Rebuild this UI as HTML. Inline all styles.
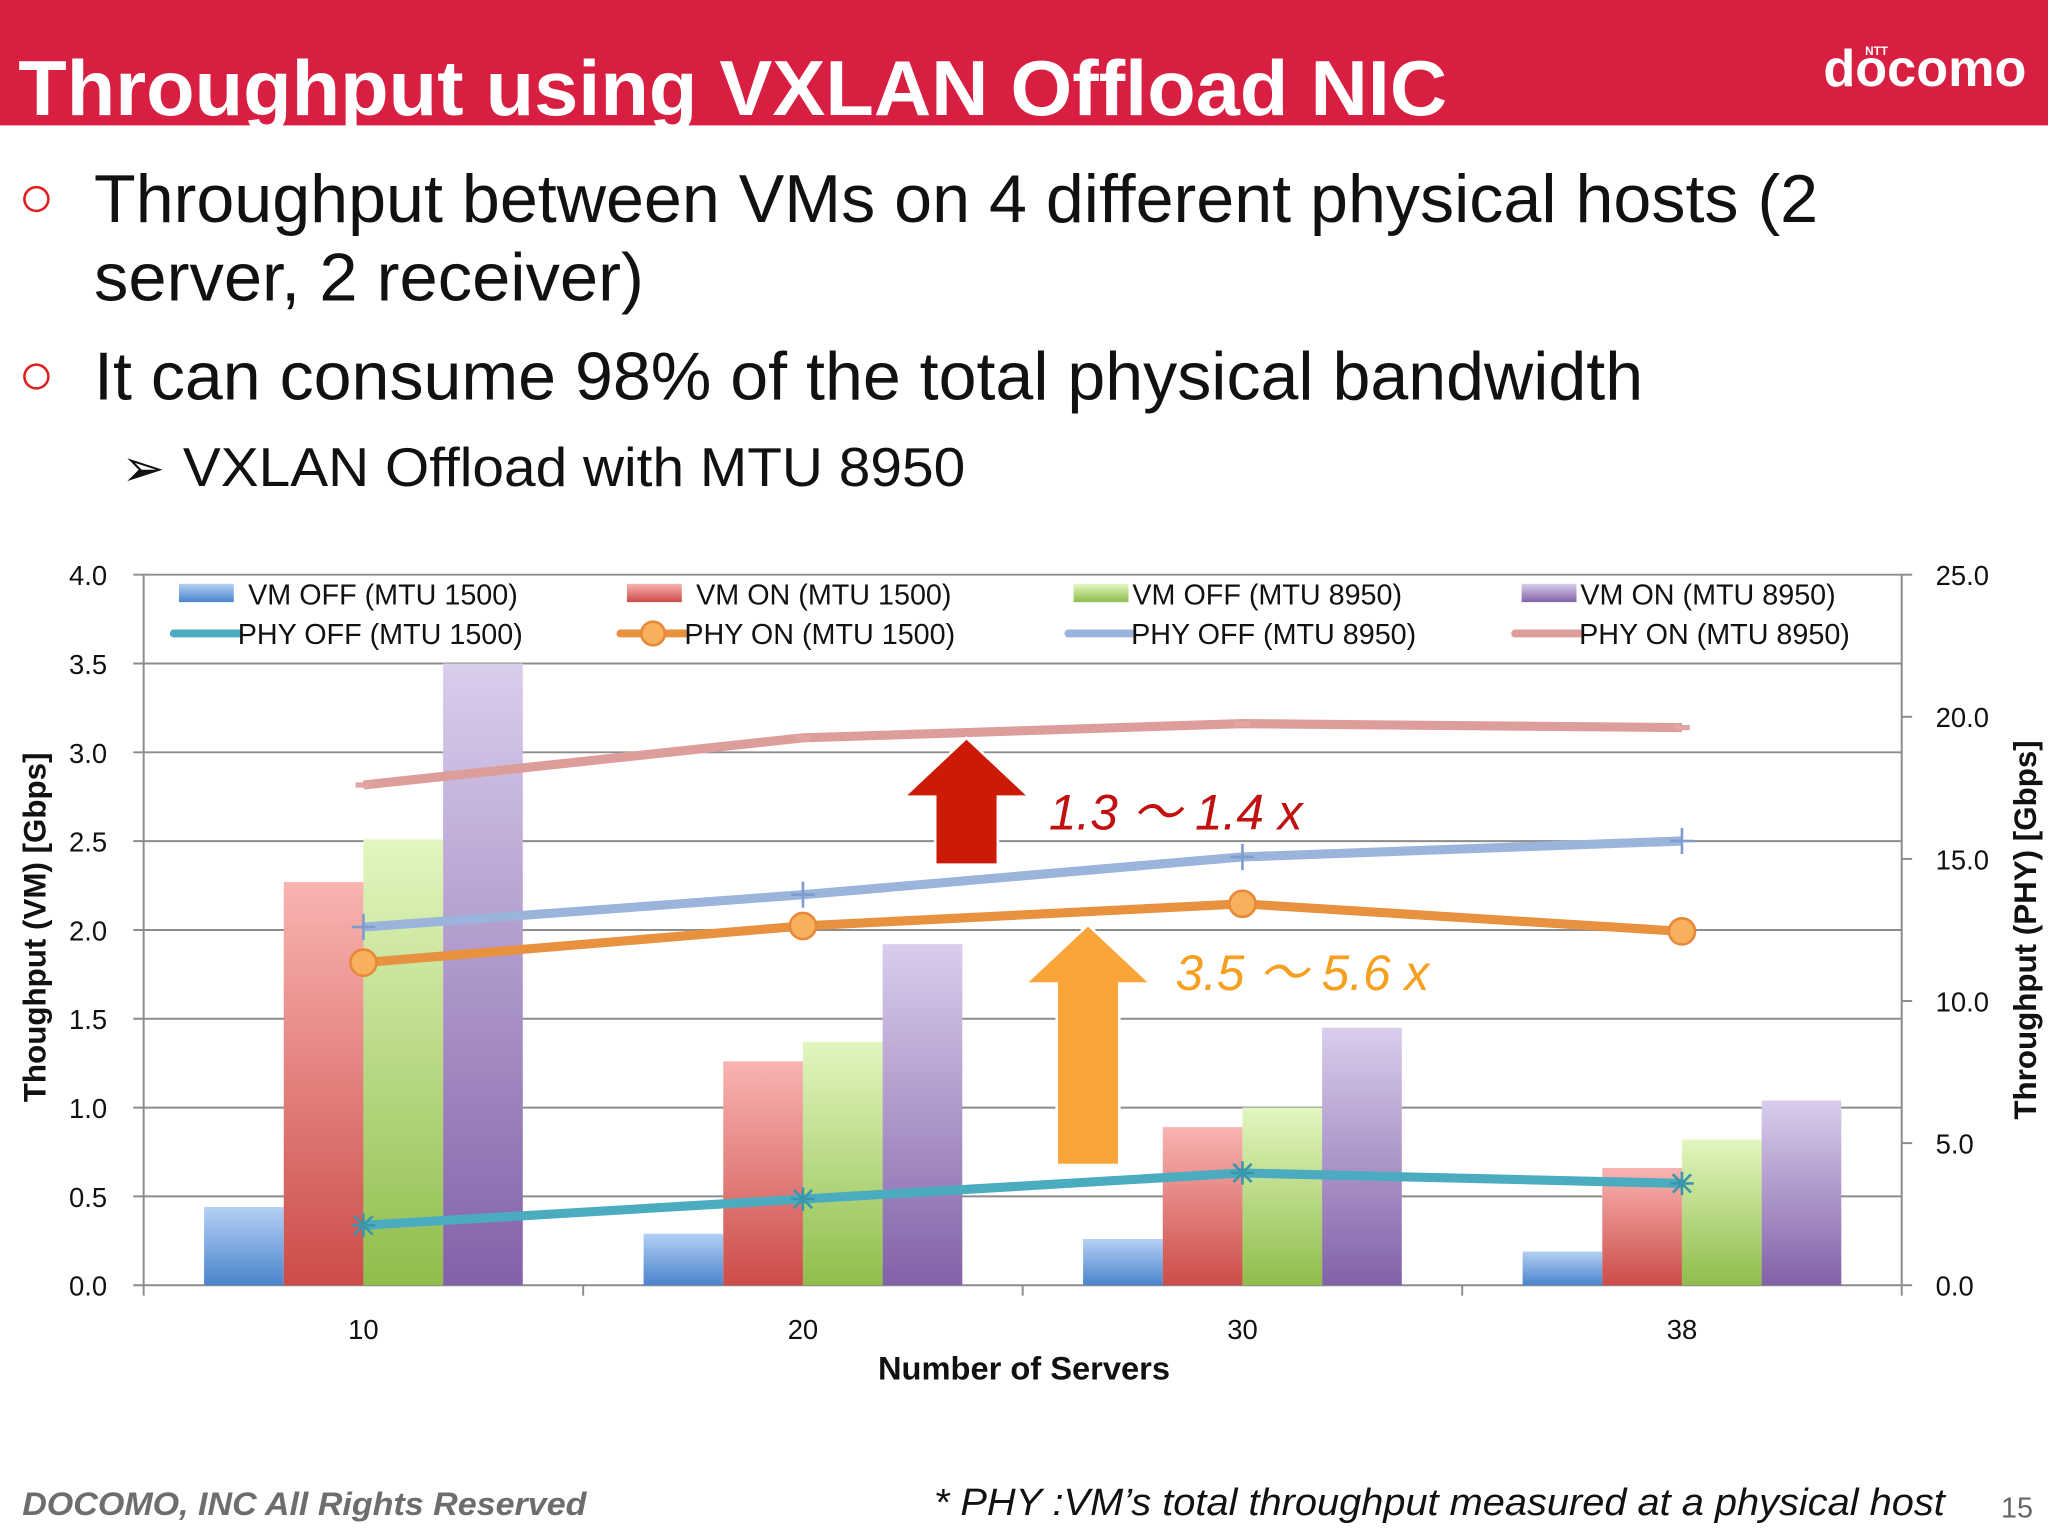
<!DOCTYPE html>
<html><head><meta charset="utf-8"><style>
html,body{margin:0;padding:0;background:#fff;}
svg{display:block;font-family:"Liberation Sans",sans-serif;}
</style></head><body>
<svg id="s" width="2048" height="1536" viewBox="0 0 1568 1176">
<defs>
<linearGradient id="gb" x1="0" y1="0" x2="0" y2="1"><stop offset="0" stop-color="#b4d0f4"/><stop offset="1" stop-color="#4a84cc"/></linearGradient>
<linearGradient id="gr" x1="0" y1="0" x2="0" y2="1"><stop offset="0" stop-color="#f9b4b2"/><stop offset="1" stop-color="#cc4c48"/></linearGradient>
<linearGradient id="gg" x1="0" y1="0" x2="0" y2="1"><stop offset="0" stop-color="#e2f6bf"/><stop offset="1" stop-color="#90bd4c"/></linearGradient>
<linearGradient id="gp" x1="0" y1="0" x2="0" y2="1"><stop offset="0" stop-color="#d9cdec"/><stop offset="1" stop-color="#8262a8"/></linearGradient>
</defs>
<rect x="0" y="0" width="1568" height="96" fill="#d81f42"/>
<text x="14" y="88" font-size="60" font-weight="bold" fill="#fff" textLength="1094" lengthAdjust="spacingAndGlyphs">Throughput using VXLAN Offload NIC</text>
<text x="1396" y="66" font-size="40" font-weight="bold" fill="#fff">docomo</text>
<text x="1428" y="42" font-size="9" font-weight="bold" fill="#fff">NTT</text>
<g font-size="52" fill="#111">
<text x="14" y="166" fill="#e02020" font-size="46" font-weight="bold">○</text>
<text x="72" y="170" textLength="1320" lengthAdjust="spacingAndGlyphs">Throughput between VMs on 4 different physical hosts (2</text>
<text x="72" y="230" textLength="421" lengthAdjust="spacingAndGlyphs">server, 2 receiver)</text>
<text x="14" y="302" fill="#e02020" font-size="46" font-weight="bold">○</text>
<text x="72" y="306" textLength="1186" lengthAdjust="spacingAndGlyphs">It can consume 98% of the total physical bandwidth</text>
<text x="93" y="372" font-size="40">➢</text>
<text x="140" y="372" font-size="42" textLength="599" lengthAdjust="spacingAndGlyphs">VXLAN Offload with MTU 8950</text>
</g>
<g id="chart"></g>
<text x="17" y="1160" font-size="25" font-style="italic" font-weight="bold" fill="#6d6d6d" textLength="432" lengthAdjust="spacingAndGlyphs">DOCOMO, INC All Rights Reserved</text>
<text x="715" y="1160" font-size="29" font-style="italic" fill="#111" textLength="774" lengthAdjust="spacingAndGlyphs">* PHY :VM’s total throughput measured at a physical host</text>
<text x="1532" y="1162" font-size="22" fill="#666">15</text>
</svg>
<script>
const categories=["10","20","30","38"];
const vmOff1500=[0.44,0.29,0.26,0.19];
const vmOn1500=[2.27,1.26,0.89,0.66];
const vmOff8950=[2.51,1.37,1.00,0.82];
const vmOn8950=[3.5,1.92,1.45,1.04];
const phyOff1500=[2.11,3.03,3.95,3.58];
const phyOn1500=[11.35,12.64,13.42,12.45];
const phyOff8950=[12.6,13.74,15.07,15.63];
const phyOn8950=[17.6,19.26,19.76,19.62];
const leftTicks=["0.0","0.5","1.0","1.5","2.0","2.5","3.0","3.5","4.0"];
const rightTicks=["0.0","5.0","10.0","15.0","20.0","25.0"];

const NS="http://www.w3.org/2000/svg";
const g=document.getElementById('chart');
const L=110,R=1456,B=984,T=440;
const yL=v=>B-(v/4)*(B-T);
const yR=v=>B-(v/25)*(B-T);
const band=(R-L)/categories.length;
const xC=i=>L+band*(i+0.5);
function mk(tag,attrs,parent){const e=document.createElementNS(NS,tag);for(const k in attrs)e.setAttribute(k,attrs[k]);(parent||g).appendChild(e);return e;}
function txt(x,y,s,attrs){const e=mk('text',Object.assign({x:x,y:y},attrs));e.textContent=s;return e;}

leftTicks.forEach((t,i)=>{const v=i*0.5;const y=yL(v);
 const l=mk('line',{x1:L-8,x2:R,y1:y,y2:y,stroke:'#8c8c8c','stroke-width':1.5});
 
 
 const e=txt(82,y+8,t,{'font-size':21,'text-anchor':'end',fill:'#111'});
 
 
});
rightTicks.forEach((t,i)=>{const v=i*5;const y=yR(v);
 const l=mk('line',{x1:R,x2:R+8,y1:y,y2:y,stroke:'#8c8c8c','stroke-width':1.5});
 
 
 const e=txt(1482,y+8,t,{'font-size':21,fill:'#111'});
 
 
});
let ax=mk('line',{x1:L,x2:L,y1:T,y2:B,stroke:'#8c8c8c','stroke-width':1.5});


ax=mk('line',{x1:R,x2:R,y1:T,y2:B,stroke:'#8c8c8c','stroke-width':1.5});


for(let i=0;i<=categories.length;i++){const x=L+band*i;
 const t=mk('line',{x1:x,x2:x,y1:B,y2:B+8,stroke:'#8c8c8c','stroke-width':1.5});
 
 
}
categories.forEach((c,i)=>{const e=txt(xC(i),1025,c,{'font-size':21,'text-anchor':'middle',fill:'#111'});
 
 });

const bw=61;
const barSeries=[[vmOff1500,'url(#gb)','bar-vm-off-1500'],[vmOn1500,'url(#gr)','bar-vm-on-1500'],[vmOff8950,'url(#gg)','bar-vm-off-8950'],[vmOn8950,'url(#gp)','bar-vm-on-8950']];
barSeries.forEach((s,si)=>{s[0].forEach((v,i)=>{const x=xC(i)-2*bw+si*bw;
 const r=mk('rect',{x:x,y:yL(v),width:bw,height:B-yL(v),fill:s[1]});
 
 
});});

function line(data,color,w,name,marker){
 const pts=data.map((v,i)=>xC(i)+','+yR(v)).join(' ');
 const p=mk('polyline',{points:pts,fill:'none',stroke:color,'stroke-width':w,'stroke-linejoin':'round'});
 
 
 data.forEach((v,i)=>{const x=xC(i),y=yR(v);let m;
  if(marker==='circle'){m=mk('ellipse',{cx:x,cy:y,rx:10,ry:10,fill:'#f7b05c',stroke:'#e8893a','stroke-width':2});}
  else if(marker==='star'){m=mk('path',{d:`M${x-9},${y}H${x+9}M${x},${y-9}V${y+9}M${x-7},${y-7}L${x+7},${y+7}M${x-7},${y+7}L${x+7},${y-7}`,stroke:'#3a96aa','stroke-width':2});}
  else if(marker==='plus'){m=mk('path',{d:`M${x-9},${y}H${x+9}M${x},${y-10}V${y+10}`,stroke:'#7f9ccf','stroke-width':2});}
  else {m=mk('rect',{x:x-6,y:y-2,width:12,height:4,fill:'#e2a5a2'});}
  
  
 });
}
line(phyOn8950,'#dd9e9b',7,'line-phy-on-8950','dash');
line(phyOff8950,'#9ab4dc',7,'line-phy-off-8950','plus');
line(phyOn1500,'#e8913e',7,'line-phy-on-1500','circle');
line(phyOff1500,'#4bacc0',7,'line-phy-off-1500','star');

function arrow(cx,top,bot,fill,name){
 const p=mk('polygon',{points:`${cx},${top} ${cx+48},${top+45} ${cx+24},${top+45} ${cx+24},${bot} ${cx-24},${bot} ${cx-24},${top+45} ${cx-48},${top+45}`,fill:fill,stroke:'#fff','stroke-width':2});
 
 
}
arrow(740,565,662,'#cc1a06','red-arrow');
arrow(833,708,892,'#f9a53a','orange-arrow');
let a=txt(803,635,'1.3 ～ 1.4 x',{'font-size':38,'font-style':'italic',fill:'#c01010'});


a=txt(900,758,'3.5 ～ 5.6 x',{'font-size':38,'font-style':'italic',fill:'#f5a020'});



const legBars=[[137,190,'url(#gb)','VM OFF (MTU 1500)'],[480,533,'url(#gr)','VM ON (MTU 1500)'],[822,867,'url(#gg)','VM OFF (MTU 8950)'],[1165,1210,'url(#gp)','VM ON (MTU 8950)']];
legBars.forEach(l=>{const r=mk('rect',{x:l[0],y:447,width:42,height:14,fill:l[2]});
 
 
 const e=txt(l[1],463,l[3],{'font-size':22,fill:'#111'});
 
 });
const legLines=[[133,183,'#4bacc0','PHY OFF (MTU 1500)'],[475,525,'#e8913e','PHY ON (MTU 1500)'],[818,867,'#9ab4dc','PHY OFF (MTU 8950)'],[1160,1210,'#dd9e9b','PHY ON (MTU 8950)']];
legLines.forEach(l=>{const r=mk('line',{x1:l[0],x2:l[1],y1:485,y2:485,stroke:l[2],'stroke-width':6,'stroke-linecap':'round'});
 
 
 const e=txt(l[1]-1,493,l[3],{'font-size':22,fill:'#111'});
 
 });
mk('circle',{cx:500,cy:485,r:9,fill:'#f7b05c',stroke:'#e8893a','stroke-width':2});

a=txt(0,0,'Thoughput (VM)  [Gbps]',{'font-size':24,'font-weight':'bold',fill:'#111','text-anchor':'middle',transform:'translate(35,710) rotate(-90)'});


a=txt(0,0,'Throughput (PHY) [Gbps]',{'font-size':24,'font-weight':'bold',fill:'#111','text-anchor':'middle',transform:'translate(1559,712) rotate(-90)'});


a=txt(784,1056,'Number of Servers',{'font-size':25,'font-weight':'bold',fill:'#111','text-anchor':'middle'});


</script>
</body></html>
